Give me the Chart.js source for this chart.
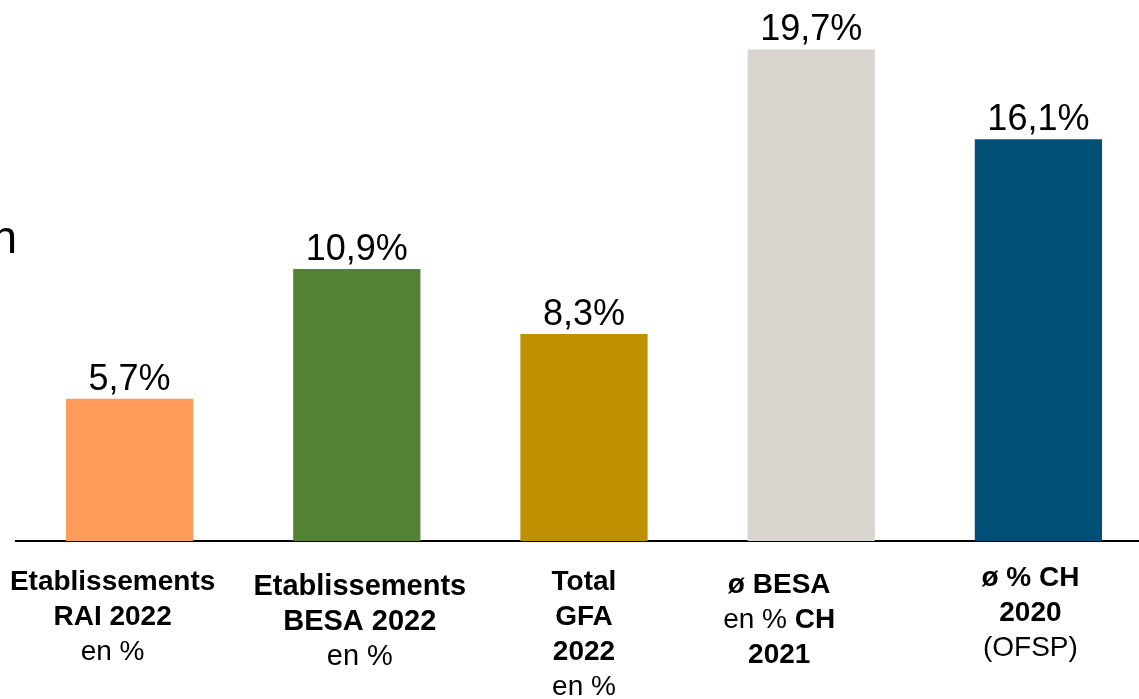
<!DOCTYPE html>
<html>
<head>
<meta charset="utf-8">
<script src="https://cdn.jsdelivr.net/npm/chart.js@4/dist/chart.umd.min.js"></script>
<style>
  html, body { margin: 0; padding: 0; background: #fff; overflow: hidden; }
  #wrap { position: relative; width: 1160px; height: 699px; }
</style>
</head>
<body>
<div id="wrap"><canvas id="tauxChart" width="1160" height="699"></canvas></div>
<script>
// ===============================
// DONNÉES
// ===============================

// libellés des catégories, une entrée par ligne ; **texte** = gras
const categories = [
    ['**Etablissements**', '**RAI 2022**', 'en %'],
    ['**Etablissements**', '**BESA 2022**', 'en %'],
    ['**Total**', '**GFA**', '**2022**', 'en %'],
    ['**ø BESA**', 'en % **CH**', '**2021**'],
    ['**ø % CH**', '**2020**', '(OFSP)']
];
const values = [5.7, 10.9, 8.3, 19.7, 16.1];
const barColors = ['#FF9C5B', '#548235', '#BF9000', '#D9D4CD', '#004F76'];

// placement des libellés sous l'axe
const labelShift = [-17, 3, 0, -32, -8];
const labelTop = [582, 587, 582, 585, 578];
const labelSize = [28, 29, 28, 28, 28];
const lineStep = 35;

const FONT = '"Liberation Sans", Arial, Helvetica, sans-serif';

function formatPct(v) {
    return v.toFixed(1).replace('.', ',') + '%';
}

// ===============================
// PLUGINS
// ===============================

// valeurs au-dessus des barres
const valueLabels = {
    id: 'valueLabels',
    afterDatasetsDraw(chart) {
        const { ctx } = chart;
        const meta = chart.getDatasetMeta(0);
        ctx.save();
        ctx.font = '36px ' + FONT;
        ctx.fillStyle = '#000';
        ctx.textAlign = 'center';
        ctx.textBaseline = 'alphabetic';
        meta.data.forEach((bar, i) => {
            ctx.fillText(formatPct(values[i]), bar.x, bar.y - 9);
        });
        ctx.restore();
    }
};

// libellés sous l'axe, avec gras / normal mélangés
const categoryLabels = {
    id: 'categoryLabels',
    afterDraw(chart) {
        const { ctx } = chart;
        const xScale = chart.scales.x;
        ctx.save();
        ctx.fillStyle = '#000';
        ctx.textAlign = 'left';
        ctx.textBaseline = 'middle';
        categories.forEach((lines, i) => {
            const cx = xScale.getPixelForValue(i) + labelShift[i];
            const size = labelSize[i];
            lines.forEach((line, j) => {
                const y = labelTop[i] + j * lineStep;
                const segs = line.split('**')
                    .map((t, k) => ({ t, bold: k % 2 === 1 }))
                    .filter(s => s.t.length);
                const fontOf = s => (s.bold ? 'bold ' : '') + size + 'px ' + FONT;
                const widths = segs.map(s => { ctx.font = fontOf(s); return ctx.measureText(s.t).width; });
                let x = cx - widths.reduce((a, b) => a + b, 0) / 2;
                segs.forEach((s, k) => {
                    ctx.font = fontOf(s);
                    ctx.fillText(s.t, x, y);
                    x += widths[k];
                });
            });
        });

        // fin du titre coupé à gauche
        ctx.font = '46px ' + FONT;
        ctx.textAlign = 'right';
        ctx.textBaseline = 'alphabetic';
        ctx.fillText('n', 17, 253);
        ctx.restore();
    }
};

// ===============================
// GRAPHIQUE
// ===============================

new Chart(document.getElementById('tauxChart'), {
    type: 'bar',
    data: {
        labels: categories.map(c => c.join(' ')),
        datasets: [{
            data: values,
            backgroundColor: barColors,
            borderWidth: 0,
            barPercentage: 0.56,
            categoryPercentage: 1
        }]
    },
    options: {
        responsive: false,
        animation: false,
        layout: { padding: { left: 16, right: 8, top: 42, bottom: 158 } },
        plugins: {
            legend: { display: false },
            tooltip: { enabled: false }
        },
        scales: {
            x: {
                grid: { display: false, drawTicks: false },
                border: { display: true, color: '#000', width: 2 },
                ticks: { display: false }
            },
            y: {
                display: false,
                min: 0,
                max: 20
            }
        }
    },
    plugins: [valueLabels, categoryLabels]
});
</script>
</body>
</html>
